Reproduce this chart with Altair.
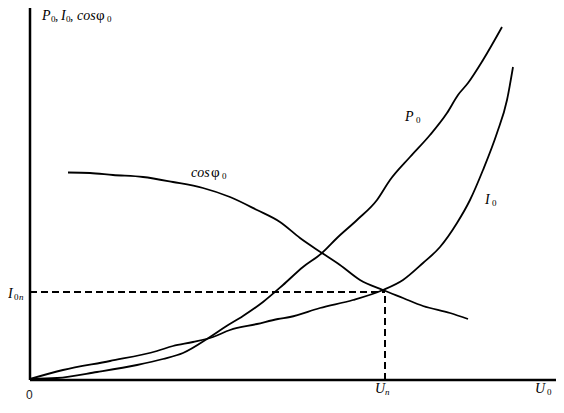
import altair as alt
import pandas as pd

# Curves (U0 along x, value along y)
cos_u = [38, 60, 83, 113, 143, 173, 200, 227, 250, 270, 292, 310, 330, 353, 373, 393, 420, 438]
cos_v = [207.5, 207, 205, 203, 198, 192, 183, 170, 158, 142, 127, 115, 100, 90, 82, 74, 67, 61]

p0_u = [0, 27, 67, 107, 133, 153, 180, 195, 213, 233, 253, 273, 292, 307, 327, 347, 360, 380, 400, 417, 428, 438, 453, 472]
p0_v = [1, 2, 8, 15, 21, 27, 43, 53, 64, 78, 95, 113, 127, 142, 160, 180, 200, 223, 245, 267, 285, 297, 320, 353]

i0_u = [0, 33, 80, 127, 143, 163, 183, 200, 227, 248, 260, 290, 323, 353, 373, 393, 410, 427, 440, 453, 467, 477, 483]
i0_v = [1, 10, 19, 29, 34, 38, 43, 50, 56, 61, 63, 72, 80, 90, 100, 117, 133, 157, 180, 210, 247, 280, 313]

# Nominal point
u_n = 355
i_0n = 88

# Axis extents
x_max = 534
y_max = 380

# Label pieces: text, x, y, size
ital_text = ["P", "I", "cos", "cos", "P", "I", "I", "n", "U", "n", "U"]
ital_x = [12, 31, 47, 161, 375, 455, -22, -11, 345, 355, 505]
ital_y = [360, 360, 360, 203, 259, 176, 82, 80, -13, -15, -13]
ital_size = [14, 14, 14, 14, 14, 14, 14, 9, 14, 9, 14]

up_text = ["0", ",", "0", ",", "φ", "0", "φ", "0", "0", "0", "0", "0"]
up_x = [21, 25, 36, 40, 66, 77, 181, 192, 386, 462, -16, 517]
up_y = [358, 360, 358, 360, 360, 358, 203, 201, 257, 174, 80, -15]
up_size = [9, 13, 9, 13, 15, 9, 15, 9, 9, 9, 9, 9]

origin_text = ["0"]
origin_x = [-4]
origin_y = [-19]

xs = alt.Scale(domain=[-22, 526], nice=False, zero=False)
ys = alt.Scale(domain=[-25, 372], nice=False, zero=False)

rows = []
for name, us, vs in [("cos", cos_u, cos_v), ("P0", p0_u, p0_v), ("I0", i0_u, i0_v)]:
    for u, v in zip(us, vs):
        rows.append({"series": name, "u": u, "v": v})
curves = pd.DataFrame(rows)

lines = alt.Chart(curves).mark_line(interpolate="monotone", color="black", strokeWidth=1.8).encode(
    x=alt.X("u:Q", scale=xs, axis=None),
    y=alt.Y("v:Q", scale=ys, axis=None),
    detail="series:N",
    order="u:Q",
)

axes_df = pd.DataFrame({
    "x": [0, 0], "x2": [0, x_max], "y": [0, 0], "y2": [y_max, 0]
})
axes = alt.Chart(axes_df).mark_rule(color="black", strokeWidth=2.5).encode(
    x=alt.X("x:Q", scale=xs, axis=None), x2="x2:Q",
    y=alt.Y("y:Q", scale=ys, axis=None), y2="y2:Q",
)

dash_df = pd.DataFrame({
    "x": [0, u_n], "x2": [u_n, u_n], "y": [i_0n, 0], "y2": [i_0n, i_0n]
})
dashed = alt.Chart(dash_df).mark_rule(color="black", strokeWidth=2, strokeDash=[7, 4]).encode(
    x=alt.X("x:Q", scale=xs, axis=None), x2="x2:Q",
    y=alt.Y("y:Q", scale=ys, axis=None), y2="y2:Q",
)

ital_df = pd.DataFrame({"t": ital_text, "x": ital_x, "y": ital_y, "s": ital_size})
ital = alt.Chart(ital_df).mark_text(
    font="Liberation Serif", fontStyle="italic", align="left", baseline="alphabetic", color="black"
).encode(
    x=alt.X("x:Q", scale=xs, axis=None), y=alt.Y("y:Q", scale=ys, axis=None),
    text="t:N", size=alt.Size("s:Q", scale=None, legend=None),
)

up_df = pd.DataFrame({"t": up_text, "x": up_x, "y": up_y, "s": up_size})
up = alt.Chart(up_df).mark_text(
    font="Liberation Serif", align="left", baseline="alphabetic", color="black"
).encode(
    x=alt.X("x:Q", scale=xs, axis=None), y=alt.Y("y:Q", scale=ys, axis=None),
    text="t:N", size=alt.Size("s:Q", scale=None, legend=None),
)

org_df = pd.DataFrame({"t": origin_text, "x": origin_x, "y": origin_y})
org = alt.Chart(org_df).mark_text(
    font="Liberation Sans", fontSize=12, align="left", baseline="alphabetic", color="#222"
).encode(
    x=alt.X("x:Q", scale=xs, axis=None), y=alt.Y("y:Q", scale=ys, axis=None),
    text="t:N",
)

chart = alt.layer(axes, dashed, lines, ital, up, org).properties(
    width=548, height=397, autosize=alt.AutoSizeParams(type="none"), padding=0,
    background="white",
).configure_view(stroke=None)

chart.save("out.html", embed_options={"renderer": "svg", "actions": False})
